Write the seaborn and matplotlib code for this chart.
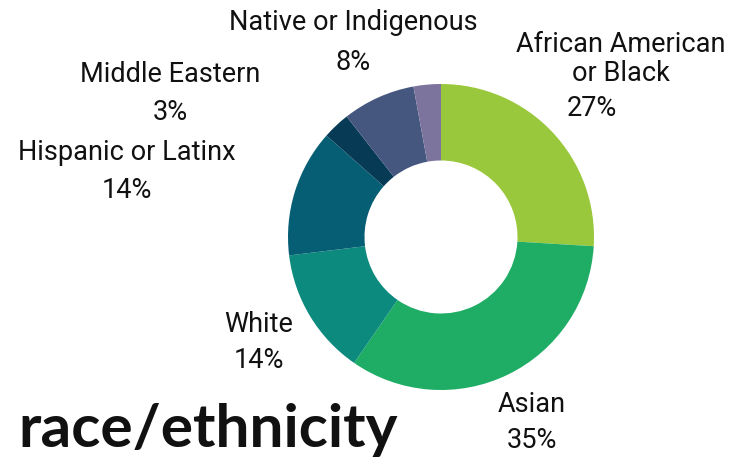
import matplotlib
matplotlib.use("Agg")
import matplotlib.pyplot as plt
import seaborn as sns

# slice data, clockwise from 12 o'clock
groups = ["African American\nor Black", "Asian", "White", "Hispanic or Latinx",
          "Middle Eastern", "Native or Indigenous", "Other"]
shares = [27, 35, 14, 14, 3, 8, 3]
pct_labels = ["27%", "35%", "14%", "14%", "3%", "8%", ""]
colors = ["#9AC83C", "#1FAD65", "#0C8A7E", "#065E74", "#073A55", "#46577F", "#7D749E"]

# label anchors in figure pixels (name centre, percent centre)
name_pos = [(621, 59), (532, 405), (259, 324), (127, 153), (170, 74), (353, 22), None]
pct_pos = [(592, 108), (532, 441), (259, 361), (127, 190), (170, 112), (353, 62), None]

sns.set_theme(style="white")
plt.rcParams["font.family"] = ["Roboto", "DejaVu Sans"]

W, H = 732, 463
fig = plt.figure(figsize=(W / 100, H / 100), dpi=100)
cx, cy, r = 441, 237, 153
ax = fig.add_axes([(cx - r) / W, (H - cy - r) / H, 2 * r / W, 2 * r / H])
ax.pie(shares, colors=colors, startangle=90, counterclock=False,
       wedgeprops=dict(width=0.5, linewidth=0))
ax.set_xlim(-1, 1)
ax.set_ylim(-1, 1)
ax.set_aspect("equal")
ax.axis("off")

for name, pct, npos, ppos in zip(groups, pct_labels, name_pos, pct_pos):
    if npos is None:
        continue
    fig.text(npos[0] / W, 1 - npos[1] / H, name, ha="center", va="center",
             fontsize=19.5, color="#111111", linespacing=1.05)
    fig.text(ppos[0] / W, 1 - ppos[1] / H, pct, ha="center", va="center",
             fontsize=19.5, color="#111111")

fig.text(18 / W, 1 - 430 / H, "race/ethnicity", ha="left", va="center",
         fontsize=43.5, fontweight="bold", color="#111111",
         family=["Lato", "DejaVu Sans"])

fig.savefig("out.png", dpi=100)
